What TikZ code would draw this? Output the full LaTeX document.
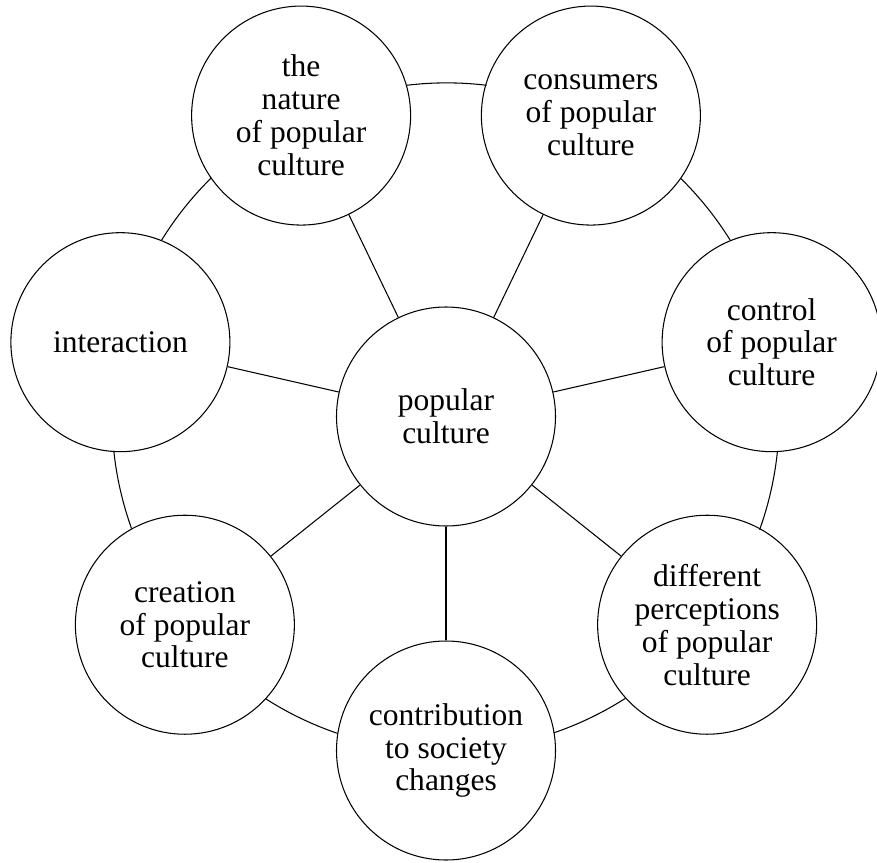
\documentclass[tikz,border=0pt]{standalone}
\usepackage{fontspec}
\setmainfont{Liberation Serif}
\begin{document}
\begin{tikzpicture}[
  topic/.style={draw,circle,fill=white,line width=0.9pt,minimum size=6.57cm,inner sep=0pt,align=center,font=\fontsize{26.9}{28.1}\selectfont},
  spoke/.style={line width=0.9pt},
  ring/.style={line width=0.9pt}
]
\useasboundingbox (-13.38,-13.365) rectangle (12.93,12.495);

\node[topic] (hub) at (0,0) {popular\\culture};

\node[topic] (nature) at (115.71:10.02) {the\\nature\\of popular\\culture};
\node[topic] (consumers) at (64.29:10.02) {consumers\\of popular\\culture};
\node[topic] (control) at (12.86:10.02) {control\\of popular\\culture};
\node[topic] (perceptions) at (-38.57:10.02) {different\\perceptions\\of popular\\culture};
\node[topic] (contribution) at (-90:10.02) {contribution\\to society\\changes};
\node[topic] (creation) at (-141.43:10.02) {creation\\of popular\\culture};
\node[topic] (interaction) at (167.14:10.02) {interaction};

\draw[spoke] (hub) -- (nature);
\draw[spoke] (hub) -- (consumers);
\draw[spoke] (hub) -- (control);
\draw[spoke] (hub) -- (perceptions);
\draw[spoke] (hub) -- (contribution);
\draw[spoke] (hub) -- (creation);
\draw[spoke] (hub) -- (interaction);

% outer ring, one arc between each pair of neighbours
\draw[ring] (nature.16) arc[start angle=96.84,delta angle=-13.69,radius=10.02];
\draw[ring] (consumers.325) arc[start angle=45.42,delta angle=-13.69,radius=10.02];
\draw[ring] (control.273) arc[start angle=-6.01,delta angle=-13.69,radius=10.02];
\draw[ring] (perceptions.222) arc[start angle=-57.44,delta angle=-13.69,radius=10.02];
\draw[ring] (contribution.171) arc[start angle=-108.87,delta angle=-13.69,radius=10.02];
\draw[ring] (creation.119) arc[start angle=-160.3,delta angle=-13.69,radius=10.02];
\draw[ring] (interaction.68) arc[start angle=148.27,delta angle=-13.69,radius=10.02];
\end{tikzpicture}
\end{document}
